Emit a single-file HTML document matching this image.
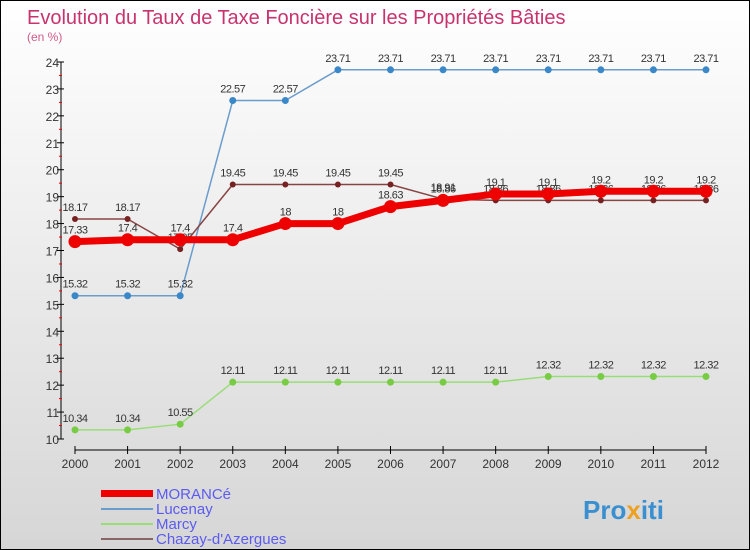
<!DOCTYPE html>
<html><head><meta charset="utf-8"><style>
body{margin:0}
#c{width:750px;height:550px;position:relative;box-sizing:border-box;border:1px solid #000;background:linear-gradient(#ffffff,#d6d6d6);font-family:"Liberation Sans",sans-serif;overflow:hidden}
</style></head><body>
<div id="c">
<svg id="s" width="748" height="548" xmlns="http://www.w3.org/2000/svg">
<text x="26" y="23" font-size="20" fill="#c8336e">Evolution du Taux de Taxe Foncière sur les Propriétés Bâties</text>
<text x="26" y="40" font-size="12" fill="#d05a88">(en %)</text>
<g id="axes"></g><g id="series"></g>
<g>
<rect x="100" y="489" width="52" height="7" fill="#ee0000"/>
<text x="155" y="498" font-size="15" fill="#5b5bf0">MORANCé</text>
<rect x="100" y="507" width="52" height="2" fill="#6a9ccc"/>
<text x="155" y="513" font-size="15" fill="#5b5bf0">Lucenay</text>
<rect x="100" y="522" width="52" height="2" fill="#99dd77"/>
<text x="155" y="528" font-size="15" fill="#5b5bf0">Marcy</text>
<rect x="100" y="537" width="52" height="2" fill="#886666"/>
<text x="155" y="543" font-size="15" fill="#5b5bf0">Chazay-d'Azergues</text>
</g>
<text x="582" y="518" font-size="26" font-weight="bold" fill="#3a8fd0">Pro<tspan fill="#f0a020">x</tspan>iti</text>
</svg></div>
<script>
const years=["2000","2001","2002","2003","2004","2005","2006","2007","2008","2009","2010","2011","2012"];
const yTicks=[10,11,12,13,14,15,16,17,18,19,20,21,22,23,24];
const lucenay=[15.32,15.32,15.32,22.57,22.57,23.71,23.71,23.71,23.71,23.71,23.71,23.71,23.71];
const marcy=[10.34,10.34,10.55,12.11,12.11,12.11,12.11,12.11,12.11,12.32,12.32,12.32,12.32];
const chazay=[18.17,18.17,17.05,19.45,19.45,19.45,19.45,18.91,18.86,18.86,18.86,18.86,18.86];
const morance=[17.33,17.4,17.4,17.4,18,18,18.63,18.86,19.1,19.1,19.2,19.2,19.2];
const NS="http://www.w3.org/2000/svg";
const X=i=>74+i*(631/12);
const Y=v=>438-(v-10)*(377/14);
function mk(t,a,p){const e=document.createElementNS(NS,t);for(const k in a)e.setAttribute(k,a[k]);p.appendChild(e);return e;}
const ax=document.getElementById('axes');
const yl=mk('line',{x1:60,y1:Y(24),x2:60,y2:Y(10),stroke:'#000'},ax);


yTicks.forEach(v=>{
 const t=mk('line',{x1:56,y1:Y(v),x2:63,y2:Y(v),stroke:'#000'},ax);
 
 
 const l=mk('text',{x:58,y:Y(v)+5,'font-size':12,fill:'#333','text-anchor':'end'},ax);l.textContent=v;
 
 
 if(v<24){const m=mk('line',{x1:58,y1:Y(v+0.5),x2:61,y2:Y(v+0.5),stroke:'#e00'},ax);
 
 }
});
const xl=mk('line',{x1:X(0),y1:449,x2:X(12),y2:449,stroke:'#000'},ax);


years.forEach((y,i)=>{
 const t=mk('line',{x1:X(i),y1:445,x2:X(i),y2:453,stroke:'#000'},ax);
 
 
 const l=mk('text',{x:X(i),y:467,'font-size':12,fill:'#333','text-anchor':'middle'},ax);l.textContent=y;
 
 
});
const sg=document.getElementById('series');
function series(name,vals,color,w,r,fill){
 const g=mk('g',{},sg);
 
 
 const pl=mk('polyline',{points:vals.map((v,i)=>X(i)+','+Y(v)).join(' '),fill:'none',stroke:color,'stroke-width':w,'stroke-linejoin':'round'},g);
 
 
 vals.forEach((v,i)=>{
  const c=mk('circle',{cx:X(i),cy:Y(v),r:r,fill:fill},g);
  
  
  const t=mk('text',{x:X(i),y:Y(v)-8,'font-size':11,fill:'#333','text-anchor':'middle','letter-spacing':'-0.5'},g);t.textContent=v;
  
  
 });
}
series('lucenay',lucenay,'#6a9ccc',1.5,3.5,'#3b88c8');
series('marcy',marcy,'#99dd77',1.5,3.5,'#77cc44');
series('chazay',chazay,'#884444',1.5,3,'#772222');
series('morance',morance,'#ee0000',7,6.5,'#ee0000');
</script>
</body></html>
